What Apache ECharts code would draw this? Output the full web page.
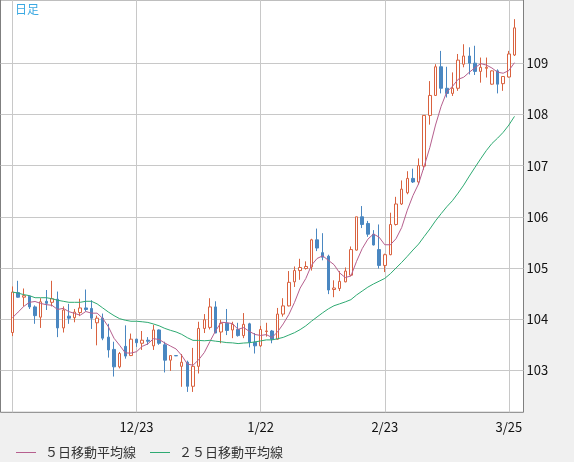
<!DOCTYPE html>
<html><head><meta charset="utf-8">
<script src="https://cdn.jsdelivr.net/npm/echarts@6/dist/echarts.min.js"></script>
<style>html,body{margin:0;padding:0;background:#f0f0f0;}#c{width:574px;height:462px;}</style>
</head><body><div id="c"></div>
<script>
const dates = ["11/23","11/24","11/25","11/26","11/27","11/30","12/1","12/2","12/3","12/4",
"12/7","12/8","12/9","12/10","12/11","12/14","12/15","12/16","12/17","12/18",
"12/21","12/22","12/23","12/24","12/25","12/28","12/29","12/30","12/31","1/1",
"1/4","1/5","1/6","1/7","1/8","1/11","1/12","1/13","1/14","1/15",
"1/18","1/19","1/20","1/21","1/22","1/25","1/26","1/27","1/28","1/29",
"2/1","2/2","2/3","2/4","2/5","2/8","2/9","2/10","2/11","2/12",
"2/15","2/16","2/17","2/18","2/19","2/22","2/23","2/24","2/25","2/26",
"3/1","3/2","3/3","3/4","3/5","3/8","3/9","3/10","3/11","3/12",
"3/15","3/16","3/17","3/18","3/19","3/22","3/23","3/24","3/25","3/26"];
const opens = [103.74,104.52,104.43,104.45,104.24,104.04,104.35,104.33,104.39,103.83,
104.06,104.03,104.13,104.22,104.21,103.93,104.02,103.65,103.41,103.07,
103.47,103.29,103.61,103.53,103.59,103.48,103.79,103.50,103.20,103.29,
103.08,103.16,102.69,103.08,103.82,103.84,104.24,103.75,103.92,103.79,
103.80,103.68,103.91,103.55,103.48,103.76,103.77,103.61,104.10,104.26,
104.73,104.95,104.99,105.02,105.55,105.30,105.23,104.58,104.60,104.73,
104.86,105.35,106.00,105.87,105.66,105.36,105.05,105.26,105.85,106.25,
106.47,106.75,106.68,106.99,107.98,108.37,108.93,108.51,108.41,108.51,
108.98,109.14,109.00,108.84,108.90,108.59,108.85,108.60,108.73,109.16];
const closes = [104.53,104.43,104.46,104.24,104.07,104.34,104.31,104.40,103.83,104.18,
104.02,104.14,104.22,104.19,104.02,104.02,103.63,103.40,103.07,103.33,
103.28,103.61,103.54,103.59,103.57,103.79,103.53,103.20,103.29,103.285,
103.16,102.69,103.08,103.82,103.99,104.24,103.73,103.92,103.78,103.90,
103.68,103.90,103.55,103.48,103.80,103.77,103.61,104.10,104.26,104.72,
104.95,105.01,105.03,105.55,105.39,105.21,104.57,104.61,104.74,104.94,
105.36,106.00,105.85,105.66,105.45,105.05,105.26,105.85,106.25,106.54,
106.75,106.68,107.00,107.98,108.37,108.93,108.51,108.41,108.51,109.06,
109.14,109.00,108.84,108.92,108.92,108.85,108.59,108.74,109.18,109.69];
const lows = [103.67,104.42,104.25,104.20,103.91,103.83,104.18,104.25,103.65,103.74,
103.91,103.94,104.06,104.15,103.81,103.49,103.59,103.25,102.88,103.04,
103.23,103.28,103.46,103.40,103.50,103.40,103.50,102.96,102.99,103.28,
102.68,102.58,102.58,102.94,103.73,103.80,103.73,103.53,103.69,103.63,
103.66,103.63,103.45,103.33,103.46,103.66,103.53,103.60,104.05,104.25,
104.63,104.77,104.97,104.95,105.33,105.15,104.49,104.43,104.55,104.72,
104.84,105.34,105.78,105.61,105.44,104.99,104.92,105.25,105.83,106.23,
106.44,106.66,106.63,106.92,107.80,108.36,108.41,108.33,108.36,108.46,
108.92,108.78,108.77,108.62,108.72,108.58,108.41,108.46,108.72,109.14];
const highs = [104.64,104.75,104.60,104.46,104.27,104.41,104.57,104.75,104.54,104.25,
104.30,104.20,104.40,104.58,104.37,104.07,104.11,103.91,103.56,103.36,
103.88,103.72,103.62,103.77,103.65,103.89,103.80,103.56,103.29,103.29,
103.32,103.19,103.44,103.95,104.10,104.41,104.35,103.99,104.20,103.95,
103.93,104.12,103.93,103.73,103.87,103.93,103.79,104.22,104.41,104.94,
105.03,105.18,105.13,105.57,105.77,105.68,105.26,104.76,104.94,105.01,
105.42,106.00,106.21,105.92,105.74,105.85,105.28,106.08,106.39,106.71,
106.89,106.94,107.14,107.98,108.65,108.98,109.24,108.93,108.82,109.18,
109.37,109.31,109.34,109.11,109.11,108.86,108.88,108.75,109.24,109.86];
// moving-average values for days whose window starts before the shown range
const ma5Early = [104.03,104.14,104.25,104.33];
const ma25Early = [104.53,104.51,104.48,104.46,104.42,104.42,104.42,104.40,104.37,104.35,
104.33,104.33,104.33,104.35,104.35,104.30,104.22,104.14,104.07,104.01,
103.98,103.96,103.96,103.95];
const yTicks = [103,104,105,106,107,108,109];
const xGridIdx = [0,22,44,66,88];
const xLabelIdx = [22,44,66,88];
const seriesNames = ['５日移動平均線','２５日移動平均線'];

function movingAvg(n, early) {
  return closes.map((c, i) => {
    if (i < n - 1) return [i, early[i]];
    let s = 0; for (let k = i - n + 1; k <= i; k++) s += closes[k];
    return [i, +(s / n).toFixed(3)];
  });
}
const candleData = dates.map((d, i) => [i, opens[i], closes[i], lows[i], highs[i]]);
const FONT = "'Noto Sans CJK JP', sans-serif";

const chart = echarts.init(document.getElementById('c'), null, {renderer: 'canvas'});
chart.setOption({
  animation: false,
  backgroundColor: '#f0f0f0',
  title: {text: '日足', left: 15, top: 3, padding: 0,
    textStyle: {fontSize: 12, fontWeight: 'normal', color: '#3aa8e2', fontFamily: FONT}},
  legend: {
    left: 16, top: 446, itemWidth: 20, itemHeight: 1, itemGap: 14, padding: 0,
    icon: 'rect',
    data: seriesNames,
    textStyle: {fontSize: 13, color: '#333', fontFamily: FONT, padding: [0, 0, 0, 4]}
  },
  grid: {left: 0.5, top: -1, width: 523, height: 413.3, show: true,
    backgroundColor: '#ffffff', borderColor: '#7f7f7f', borderWidth: 1, containLabel: false},
  xAxis: {
    type: 'value', min: -2.128, max: 90.60,
    axisLine: {show: false},
    axisTick: {show: false, customValues: xGridIdx},
    splitLine: {show: true, lineStyle: {color: '#c8c8c8', width: 1}},
    axisLabel: {customValues: xLabelIdx, formatter: v => dates[v] || '', margin: 8,
      fontSize: 13, color: '#111', fontFamily: FONT}
  },
  yAxis: {
    type: 'value', position: 'right', min: 102.182, max: 110.234, scale: true,
    axisLine: {show: false},
    axisTick: {show: false, customValues: yTicks},
    splitLine: {show: true, lineStyle: {color: '#c8c8c8', width: 1}},
    axisLabel: {customValues: yTicks, margin: 3, fontSize: 13, color: '#111', fontFamily: FONT}
  },
  series: [
    {type: 'candlestick', name: 'candle', data: candleData, barWidth: 3,
      itemStyle: {color: '#ffffff', color0: '#4a87c1', borderColor: '#d9623f', borderColor0: '#4a87c1', borderWidth: 1},
      emphasis: {disabled: true}, z: 2},
    {type: 'line', name: seriesNames[0], data: movingAvg(5, ma5Early), symbol: 'none',
      lineStyle: {color: '#b65f8e', width: 1}, itemStyle: {color: '#b65f8e'}, z: 3},
    {type: 'line', name: seriesNames[1], data: movingAvg(25, ma25Early), symbol: 'none',
      lineStyle: {color: '#2eaa72', width: 1}, itemStyle: {color: '#2eaa72'}, z: 3}
  ]
});
</script></body></html>
